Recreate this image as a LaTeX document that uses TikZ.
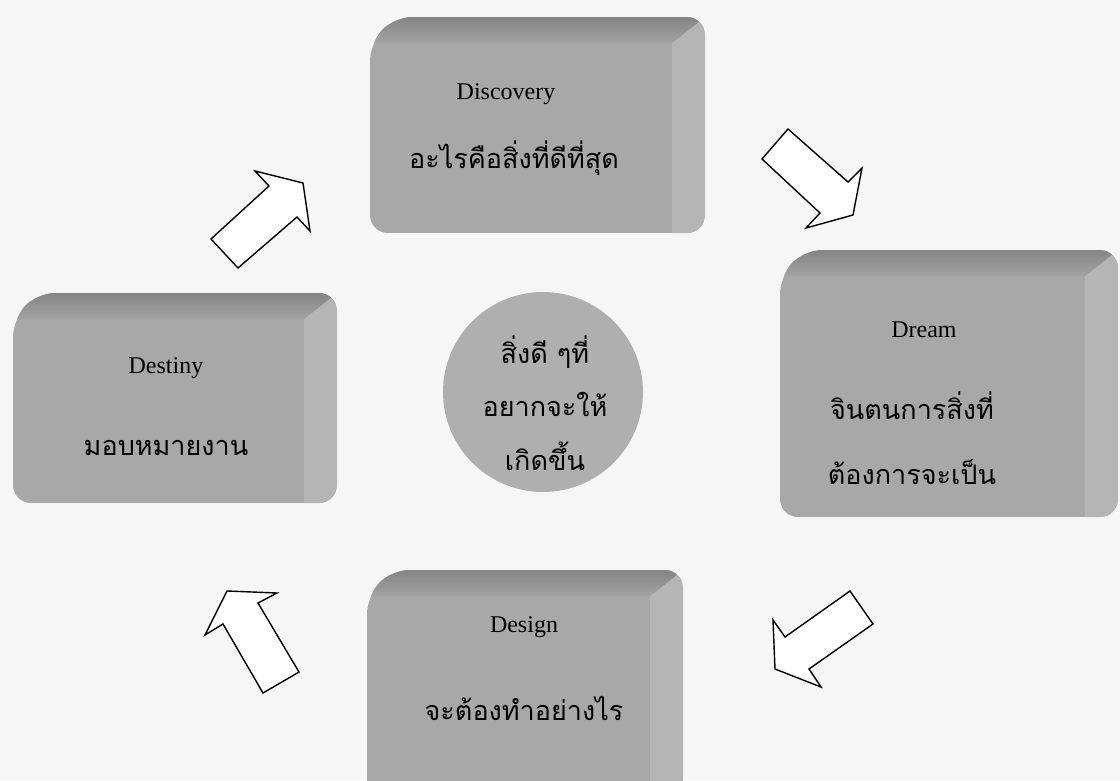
\documentclass[tikz,border=0pt]{standalone}
\usepackage{fontspec}
\setmainfont{Liberation Serif}
\newfontfamily\thaifont[Script=Thai]{Loma}
\definecolor{boxmid}{gray}{0.66}
\definecolor{boxtop}{gray}{0.52}
\definecolor{boxside}{gray}{0.71}
\definecolor{bgcol}{gray}{0.965}
\tikzset{
  engtext/.style={font=\fontsize{24}{28}\selectfont, text=black, inner sep=0pt},
  thtext/.style={font=\thaifont\fontsize{27}{32}\selectfont, text=black, inner sep=0pt},
  blockarrow/.style={fill=white, draw=black, line width=1.4pt, line join=miter},
}
\newcommand\cubebox[5]{%
  \begin{scope}
    \clip[rounded corners=18] (#2+24,#3) -- (#4,#3) -- (#4,#5) -- (#2,#5) -- (#2,#3+26) -- cycle;
    \fill[boxmid] (#2,#3) rectangle (#4,#5);
    \fill[boxside] (#4-33,#3+26) -- (#4,#3) -- (#4,#5) -- (#4-33,#5) -- cycle;
    \shade[top color=boxtop, bottom color=boxmid!85!boxtop] (#2+24,#3) -- (#4,#3) -- (#4-33,#3+26) -- (#2,#3+26) -- cycle;
  \end{scope}
  \coordinate (#1) at ({(#2+#4-33)/2},{(#3+26+#5)/2});
}
\begin{document}
\begin{tikzpicture}[x=1pt,y=-1pt]
\useasboundingbox (0,0) rectangle (1120,780);
\fill[bgcol] (0,0) rectangle (1120,780);
\begin{scope}
\clip (0,0) rectangle (1120,780);
\cubebox{discovery}{370}{17}{705}{233}
\cubebox{dream}{780}{250}{1118}{517}
\cubebox{destiny}{13}{293}{337}{503}
\cubebox{design}{367}{570}{683}{800}
\end{scope}
\node[circle, fill=boxmid!92!white, minimum size=200pt, inner sep=0pt] (core) at (543,392) {};

% texts
\node[engtext] (t1) at (506,94) {Discovery};
\node[thtext] (t1b) at (514,158) {อะไรคือสิ่งที่ดีที่สุด};
\node[engtext] (t2) at (924,330) {Dream};
\node[thtext] (t2b) at (912,406) {จินตนการสิ่งที่};
\node[thtext] (t2c) at (912,472) {ต้องการจะเป็น};
\node[engtext] (t3) at (166,368) {Destiny};
\node[thtext] (t3b) at (166,448) {มอบหมายงาน};
\node[engtext] (t4) at (524,627) {Design};
\node[thtext] (t4b) at (524,708) {จะต้องทำอย่างไร};
\node[thtext] (c1) at (545,352) {สิ่งดี ๆที่};
\node[thtext] (c2) at (545,404) {อยากจะให้};
\node[thtext] (c3) at (545,456) {เกิดขึ้น};

% block arrows
\draw[blockarrow] (211,239) -- (269,186) -- (255,171) -- (303,183) -- (310,231) -- (297,217) -- (238,268) -- cycle;
\draw[blockarrow] (762,159) -- (820,213) -- (806,228) -- (853,215) -- (862,168) -- (848,182) -- (788,129) -- cycle;
\draw[blockarrow] (850,591) -- (873,624) -- (809,669) -- (821,687) -- (775,669) -- (773,620) -- (785,637) -- cycle;
\draw[blockarrow] (263,693) -- (299,672) -- (258,603) -- (277,593) -- (227,591) -- (205,635) -- (223,624) -- cycle;
\end{tikzpicture}
\end{document}
